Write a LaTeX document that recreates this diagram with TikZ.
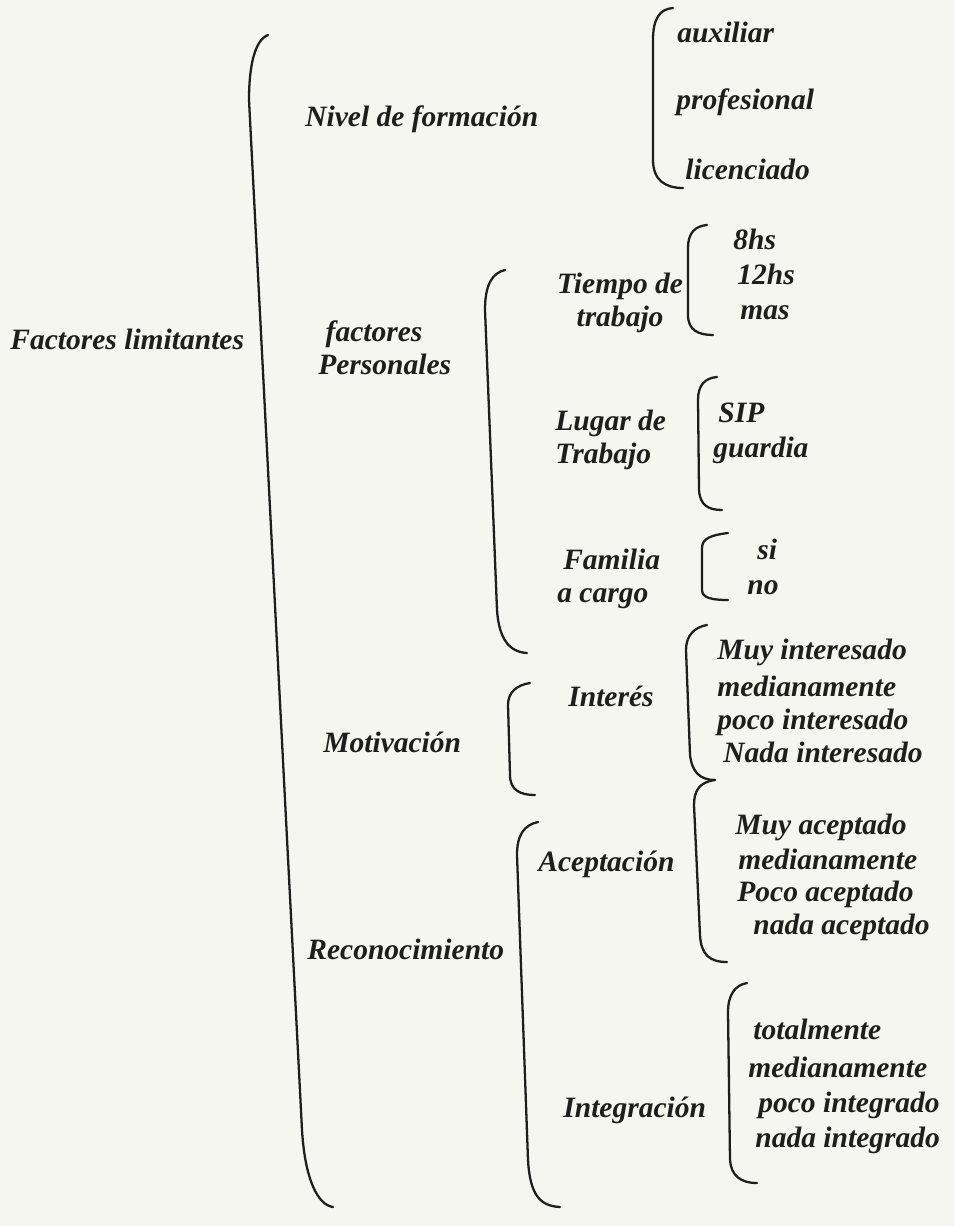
\documentclass[tikz,border=0pt]{standalone}
\usepackage{fontspec}
\setmainfont{Liberation Serif}
\usepackage{xcolor}
\usepackage{tikz}
\usetikzlibrary{positioning}

\definecolor{paper}{RGB}{245,246,240}
\definecolor{ink}{RGB}{30,30,28}

\begin{document}
\begin{tikzpicture}[
    x=0.02cm, y=-0.02cm,
    lbl/.style={font=\fontsize{16.8}{19}\selectfont\bfseries\itshape,
                text=ink, inner sep=0pt, anchor=west, yshift=-0.08cm},
    item/.style={lbl, text height=1.5ex, text depth=.25ex},
    grp/.style={lbl, align=left},
    brk/.style={draw=ink, line width=1.3pt, line cap=round}
]
\fill[paper] (0,0) rectangle (954,1226);
\useasboundingbox (0,0) rectangle (954,1226);

% Root and its big bracket
\node[item] (fl) at (10,340) {Factores limitantes};
\draw[brk] (268,35) .. controls (255,40) and (249,65) .. (249,100)
  -- (302,1130) .. controls (305,1180) and (318,1205) .. (333,1207);

% Nivel de formacion
\node[item] (nivel) at (305,117) {Nivel de formación};
\draw[brk] (673,8) .. controls (660,9) and (653,18) .. (653,40)
  -- (653,160) .. controls (653,180) and (665,188) .. (683,188);
\node[item] (aux) at (677,33) {auxiliar};
\node[item] (prof) at (676,100) {profesional};
\node[item] (lic) at (685,170) {licenciado};

% factores Personales
\node[grp] (fp) at (318,344) {\hspace{0.25em}factores\\Personales};
\draw[brk] (505,270) .. controls (492,273) and (485,285) .. (485,310)
  -- (497,610) .. controls (499,640) and (510,652) .. (527,653);

\node[lbl, anchor=center, align=center] (tiempo) at (620,299) {Tiempo de\\trabajo};
\draw[brk] (707,225) .. controls (695,226) and (688,233) .. (688,248)
  -- (688,315) .. controls (688,330) and (698,335) .. (713,335);
\node[item] (h8) at (733,240) {8hs};
\node[item] (h12) at (737,275) {12hs};
\node[item] (mas) at (740,310) {mas};

\node[grp] (lugar) at (555,436) {Lugar de\\Trabajo};
\draw[brk] (717,377) .. controls (705,378) and (698,385) .. (698,400)
  -- (699,490) .. controls (700,505) and (708,510) .. (722,510);
\node[item] (sip) at (718,413) {SIP};
\node[item] (guardia) at (713,448) {guardia};

\node[grp] (familia) at (557,575) {\hspace{0.2em}Familia\\a cargo};
\draw[brk] (728,533) .. controls (712,535) and (702,538) .. (702,548)
  -- (702,590) .. controls (702,598) and (712,600) .. (728,600);
\node[item] (si) at (757,550) {si};
\node[item] (no) at (747,585) {no};

% Motivacion
\node[item] (motiv) at (323,743) {Motivación};
\draw[brk] (530,683) .. controls (517,685) and (508,692) .. (508,705)
  -- (510,775) .. controls (510,790) and (520,795) .. (535,795);
\node[item] (interes) at (568,697) {Interés};
\draw[brk] (707,625) .. controls (695,627) and (686,635) .. (686,650)
  -- (690,755) .. controls (692,772) and (700,780) .. (715,780);
\node[item] (mi1) at (717,650) {Muy interesado};
\node[item] (mi2) at (717,687) {medianamente};
\node[item] (mi3) at (717,720) {poco interesado};
\node[item] (mi4) at (723,753) {Nada interesado};

% Reconocimiento
\node[item] (recon) at (307,950) {Reconocimiento};
\draw[brk] (538,822) .. controls (524,825) and (517,835) .. (517,855)
  -- (528,1160) .. controls (530,1195) and (540,1206) .. (560,1207);

\node[item] (acep) at (538,862) {Aceptación};
\draw[brk] (715,780) .. controls (700,782) and (694,790) .. (694,805)
  -- (700,935) .. controls (701,955) and (710,962) .. (727,962);
\node[item] (ma1) at (735,825) {Muy aceptado};
\node[item] (ma2) at (738,860) {medianamente};
\node[item] (ma3) at (737,892) {Poco aceptado};
\node[item] (ma4) at (753,925) {nada aceptado};

\node[item] (integ) at (563,1108) {Integración};
\draw[brk] (747,983) .. controls (735,985) and (728,995) .. (728,1012)
  -- (730,1160) .. controls (731,1175) and (740,1183) .. (757,1183);
\node[item] (ti1) at (753,1030) {totalmente};
\node[item] (ti2) at (748,1068) {medianamente};
\node[item] (ti3) at (758,1103) {poco integrado};
\node[item] (ti4) at (755,1138) {nada integrado};

\end{tikzpicture}
\end{document}
